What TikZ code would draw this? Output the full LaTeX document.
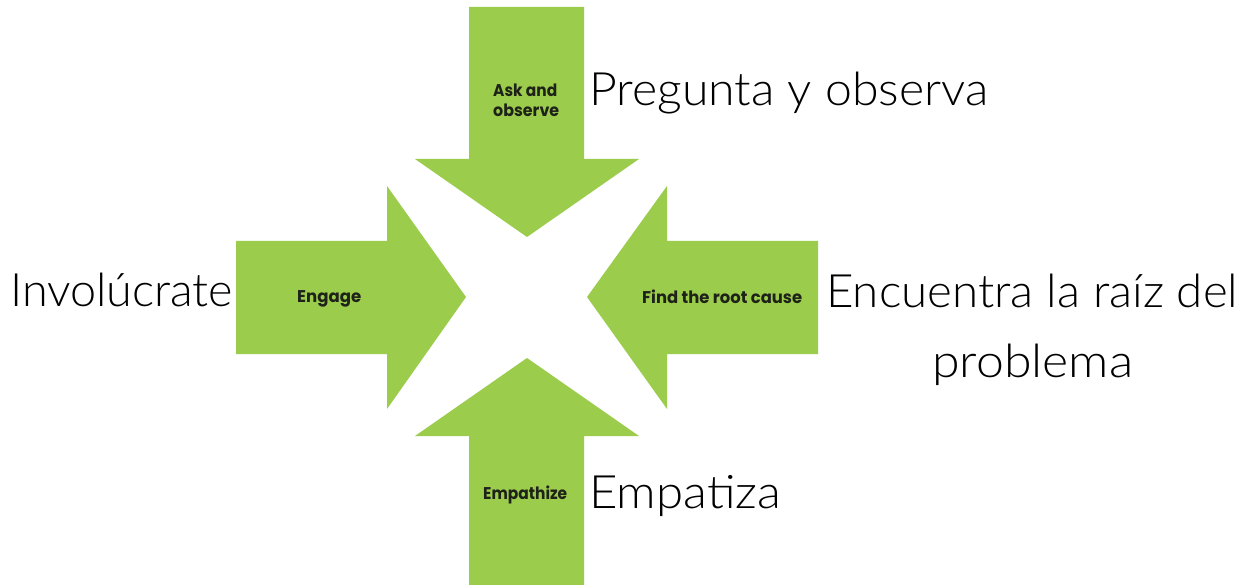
\documentclass[tikz,border=0pt]{standalone}
\usepackage{fontspec}
\usepackage{graphicx}
\newfontfamily\lightf{Lato Light}
\newfontfamily\smallf{Poppins}
\definecolor{arrowgreen}{RGB}{155,204,76}
\definecolor{smalltextcol}{RGB}{30,34,24}
\newcommand{\wfit}[2]{\resizebox{#1}{\height}{#2}}
\begin{document}
\begin{tikzpicture}[x=1pt,y=-1pt,
  arrowshape/.style={fill=arrowgreen,draw=none},
  bigtext/.style={font=\lightf\fontsize{46}{55}\selectfont, inner sep=0pt, anchor=base west, text=black},
  smalltext/.style={font=\smallf\bfseries\fontsize{17}{20}\selectfont, inner sep=0pt, anchor=base west, text=smalltextcol}]
\useasboundingbox (0,0) rectangle (1258,585);
\fill[white] (0,0) rectangle (1258,585);
% arrows
\fill[arrowshape] (469,7) -- (584,7) -- (584,159) -- (639,159) -- (527,237) -- (415,159) -- (469,159) -- cycle;
\fill[arrowshape] (236,241) -- (387,241) -- (387,186) -- (466,297) -- (387,409) -- (387,354) -- (236,354) -- cycle;
\fill[arrowshape] (818,241) -- (667,241) -- (667,186) -- (587,297) -- (667,409) -- (667,354) -- (818,354) -- cycle;
\fill[arrowshape] (469,585) -- (584,585) -- (584,436) -- (639,436) -- (527,358) -- (415,436) -- (469,436) -- cycle;
% small labels
\node[smalltext] (askA) at (493,97) {\wfit{64pt}{Ask and}};
\node[smalltext] (askB) at (493,117) {\wfit{66pt}{observe}};
\node[smalltext] (engage) at (297,303) {\wfit{64pt}{Engage}};
\node[smalltext] (root) at (642,303) {\wfit{160pt}{Find the root cause}};
\node[smalltext] (empathize) at (483,499) {\wfit{84pt}{Empathize}};
% big labels
\node[bigtext] (pregunta) at (589,106) {\wfit{399pt}{Pregunta y observa}};
\node[bigtext] (involucrate) at (10,306) {\wfit{223pt}{Involúcrate}};
\node[bigtext] (encuentra) at (826,308) {\wfit{412pt}{Encuentra la raíz del}};
\node[bigtext] (problema) at (932,377) {\wfit{201pt}{problema}};
\node[bigtext] (empatiza) at (589,508) {\wfit{192pt}{Empatiza}};
\end{tikzpicture}
\end{document}
